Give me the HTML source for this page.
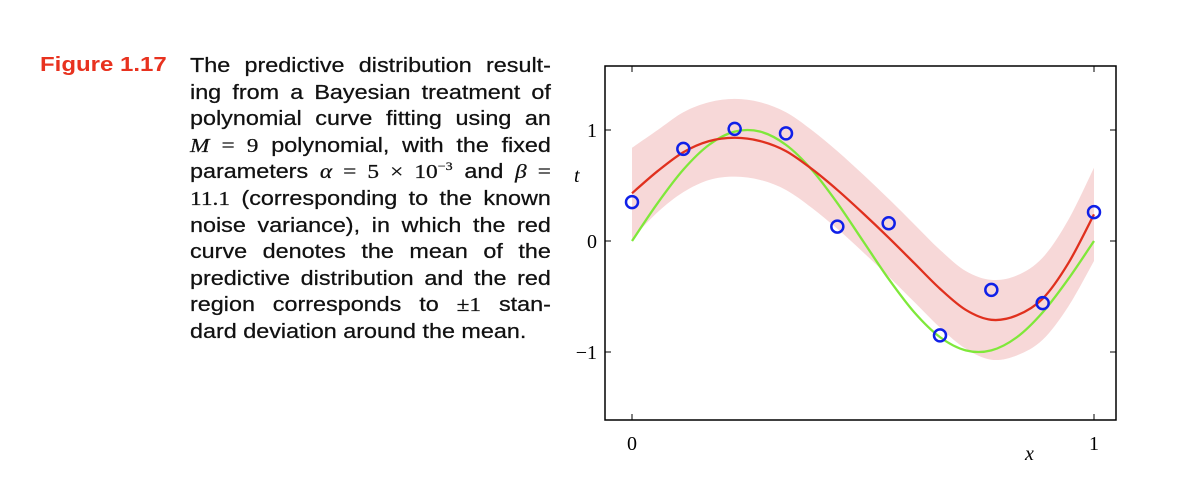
<!DOCTYPE html>
<html><head><meta charset="utf-8">
<style>
body{margin:0;background:#fff;width:1188px;height:487px;overflow:hidden;position:relative}
.fig{position:absolute;left:40px;top:53px;color:#e8321f;font:bold 20px/24px "Liberation Sans",sans-serif;transform:scaleX(1.2);transform-origin:0 0}
.cap{position:absolute;left:190px;top:53px;width:309px;font:20px/26.6px "Liberation Sans",sans-serif;color:#111;transform:scaleX(1.168);transform-origin:0 0;-webkit-text-stroke:0.25px #111}
.cap div{text-align:justify;text-align-last:justify;white-space:nowrap;height:26.6px;overflow:visible}
.cap div.last{text-align-last:left}
.m{font-family:"Liberation Serif",serif}
sup{font-size:12px;line-height:0;vertical-align:0;position:relative;top:-8px}
</style></head><body>
<div class="fig">Figure 1.17</div>
<div class="cap">
<div>The predictive distribution result-</div>
<div>ing from a Bayesian treatment of</div>
<div>polynomial curve fitting using an</div>
<div><span class="m"><i>M</i> = 9</span> polynomial, with the fixed</div>
<div>parameters <span class="m"><i>α</i> = 5 × 10<sup>−3</sup></span> and <span class="m"><i>β</i> =</span></div>
<div><span class="m">11.1</span> (corresponding to the known</div>
<div>noise variance), in which the red</div>
<div>curve denotes the mean of the</div>
<div>predictive distribution and the red</div>
<div>region corresponds to <span class="m">±1</span> stan-</div>
<div class="last">dard deviation around the mean.</div>
</div>
<svg id="chart" width="1188" height="487" style="position:absolute;left:0;top:0"></svg>
<script>
const meanX=[0,1/18,2/18,3/18,4/18,5/18,6/18,7/18,8/18,9/18,10/18,11/18,12/18,13/18,14/18,15/18,16/18,17/18,1];
const meanT=[0.43,0.63,0.80,0.90,0.93,0.90,0.81,0.65,0.46,0.25,0.03,-0.20,-0.43,-0.62,-0.71,-0.67,-0.52,-0.20,0.24];
const sdT=[0.41,0.37,0.36,0.35,0.35,0.35,0.35,0.35,0.35,0.35,0.35,0.35,0.35,0.35,0.36,0.36,0.37,0.39,0.42];
const trueT=[0,0.342,0.643,0.866,0.985,0.985,0.866,0.643,0.342,0,-0.342,-0.643,-0.866,-0.985,-0.985,-0.866,-0.643,-0.342,0];
const ptX=[0,1/9,2/9,3/9,4/9,5/9,6/9,7/9,8/9,1];
const ptT=[0.35,0.83,1.01,0.97,0.13,0.16,-0.85,-0.44,-0.56,0.26];
const yTicks=[-1,0,1];
const yTickLabels=["−1","0","1"];
const xTicks=[0,1];
const xTickLabels=["0","1"];
const NS="http://www.w3.org/2000/svg";
const svg=document.getElementById('chart');
const X=v=>632+v*462, Y=v=>241-v*111;
const L=605,R=1116,T=66,B=420;
function mk(tag,at){const e=document.createElementNS(NS,tag);for(const k in at)e.setAttribute(k,at[k]);svg.appendChild(e);return e;}
function smooth(px){let d=`M${px[0][0]},${px[0][1]}`;for(let i=0;i<px.length-1;i++){const p0=px[Math.max(i-1,0)],p1=px[i],p2=px[i+1],p3=px[Math.min(i+2,px.length-1)];
d+=` C${p1[0]+(p2[0]-p0[0])/6},${p1[1]+(p2[1]-p0[1])/6} ${p2[0]-(p3[0]-p1[0])/6},${p2[1]-(p3[1]-p1[1])/6} ${p2[0]},${p2[1]}`;}return d;}
const up=meanX.map((x,i)=>[X(x),Y(meanT[i]+sdT[i])]);
const lo=meanX.map((x,i)=>[X(x),Y(meanT[i]-sdT[i])]).reverse();
let band=mk('path',{d:smooth(up)+' L'+smooth(lo).slice(1)+' Z',fill:'#f7d8d8',stroke:'none'});


let g=mk('path',{d:smooth(meanX.map((x,i)=>[X(x),Y(trueT[i])])),fill:'none',stroke:'#7fe83a','stroke-width':2.3});


let r=mk('path',{d:smooth(meanX.map((x,i)=>[X(x),Y(meanT[i])])),fill:'none',stroke:'#e0301e','stroke-width':2.3});


ptX.forEach((x,i)=>{const c=mk('circle',{cx:X(x),cy:Y(ptT[i]),r:6,fill:'none',stroke:'#1020e8','stroke-width':2.5});

});
let fr=mk('rect',{x:L,y:T,width:R-L,height:B-T,fill:'none',stroke:'#000','stroke-width':1.5});


yTicks.forEach((v,i)=>{mk('line',{x1:L,x2:L+6,y1:Y(v),y2:Y(v),stroke:'#000'});mk('line',{x1:R,x2:R-6,y1:Y(v),y2:Y(v),stroke:'#000'});
const t=mk('text',{x:597,y:Y(v)+7,'text-anchor':'end','font-family':'Liberation Serif,serif','font-size':20});t.textContent=yTickLabels[i];

});
xTicks.forEach((v,i)=>{mk('line',{x1:X(v),x2:X(v),y1:B,y2:B-6,stroke:'#000'});mk('line',{x1:X(v),x2:X(v),y1:T,y2:T+6,stroke:'#000'});
const t=mk('text',{x:X(v),y:450,'text-anchor':'middle','font-family':'Liberation Serif,serif','font-size':20});t.textContent=xTickLabels[i];

});
let yt=mk('text',{x:574,y:182,'font-family':'Liberation Serif,serif','font-size':20,'font-style':'italic'});yt.textContent='t';


let xt=mk('text',{x:1025,y:460,'font-family':'Liberation Serif,serif','font-size':20,'font-style':'italic'});xt.textContent='x';


</script>
</body></html>
